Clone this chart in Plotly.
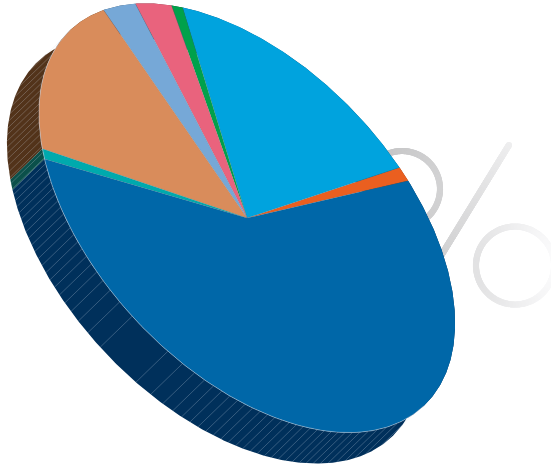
import numpy as np
import plotly.graph_objects as go

# ---- data (shares of the pie) ----
categories = ["Orange", "Sky blue", "Green", "Pink", "Light blue", "Tan", "Teal", "Dark blue"]
values = [1.0, 18.1, 0.9, 3.1, 3.1, 15.8, 0.8, 57.2]
top_colors = ["#EA5F20", "#00A3DE", "#00A14B", "#E9637D", "#76A8D7", "#D98C5B", "#00AAAD", "#0067A8"]
side_colors = ["#6e2c0e", "#00507a", "#004d24", "#6e2f3b", "#384f66", "#52331A", "#0B504A", "#00305B"]

# ---- projection of the tilted pie onto the page (pixel axes) ----
CX, CY = 247.0, 218.0
A, B = 258.0, 151.0
U = np.array([0.6845, 0.729])
V = np.array([-0.729, 0.6845])
DEPTH = np.array([-32.0, 31.0])
START = -71.2


def rim(t_deg):
    t = np.radians(np.asarray(t_deg, dtype=float))
    return (CX + A * U[0] * np.cos(t) + B * V[0] * np.sin(t),
            CY + A * U[1] * np.cos(t) + B * V[1] * np.sin(t))


fig = go.Figure()

# ---- background percent sign ----
def dots(xs, ys, cols):
    fig.add_trace(go.Scatter(x=xs, y=ys, mode="markers", hoverinfo="skip", showlegend=False,
                             marker=dict(size=6.2, color=cols, line=dict(width=0))))


def grey(v):
    v = int(round(v))
    return f"rgb({v},{v},{v + 1})"


th = np.radians(np.arange(0, 360, 1.5))
x1, y1 = 402 + 38 * np.cos(th), 189 + 38 * np.sin(th)
dots(x1, y1, [grey(v) for v in np.interp(x1, [364, 440], [192, 210])])

s = np.linspace(0, 1, 260)
x2, y2 = 509 + s * (436 - 509), 145 + s * (264 - 145)
dots(x2, y2, [grey(v) for v in np.interp(s, [0, 1], [238, 207])])

x3, y3 = 515 + 39 * np.cos(th), 265.5 + 39 * np.sin(th)
dots(x3, y3, [grey(v) for v in np.interp(x3, [476, 554], [226, 250])])

# ---- slice angle limits from the values ----
edges = START - np.concatenate([[0], np.cumsum(values)]) * 3.6

# side walls
for i in range(len(values)):
    t = np.linspace(edges[i], edges[i + 1], max(6, int(abs(values[i]) * 8)))
    x, y = rim(t)
    fig.add_trace(go.Scatter(
        x=np.concatenate([x, x[::-1] + DEPTH[0]]),
        y=np.concatenate([y, y[::-1] + DEPTH[1]]),
        mode="lines", fill="toself", fillcolor=side_colors[i],
        line=dict(width=0, color=side_colors[i]), hoverinfo="skip", showlegend=False))

# hatch lines on the visible wall
gaps = [25, 19, 15, 12, 10.5, 9.5, 9, 8.5, 8, 8, 7.5, 7.5, 7, 7, 6.5, 6.5, 6, 6, 6, 5.5, 5.5] + [5] * 6 + [4.5] * 14
dist = np.cumsum(gaps)
hx, hy = [], []
for d in dist:
    for sign in (1, -1):
        u = 18 + sign * d
        if abs(u) < A:
            t = np.degrees(np.arccos(u / A))
            px, py = rim(t)
            hx += [float(px), float(px + DEPTH[0]), None]
            hy += [float(py), float(py + DEPTH[1]), None]
fig.add_trace(go.Scatter(x=hx, y=hy, mode="lines", hoverinfo="skip", showlegend=False,
                         line=dict(color="rgba(215,225,235,0.36)", width=0.7)))

# top faces
for i, name in enumerate(categories):
    t = np.linspace(edges[i], edges[i + 1], max(6, int(abs(values[i]) * 8)))
    x, y = rim(t)
    fig.add_trace(go.Scatter(
        x=np.concatenate([[CX], x, [CX]]), y=np.concatenate([[CY], y, [CY]]),
        mode="lines", fill="toself", fillcolor=top_colors[i], name=name,
        line=dict(width=0, color=top_colors[i]), text=f"{name}: {values[i]}%",
        hoverinfo="text", showlegend=False))

# seams between slices
sx, sy = [], []
for e in edges[:-1]:
    px, py = rim(e)
    sx += [CX, float(px), None]
    sy += [CY, float(py), None]
fig.add_trace(go.Scatter(x=sx, y=sy, mode="lines", hoverinfo="skip", showlegend=False,
                         line=dict(color="rgba(90,100,110,0.4)", width=0.5)))

# light line where the top meets the wall
t = np.linspace(0, 180, 200)
x, y = rim(t)
fig.add_trace(go.Scatter(x=x, y=y, mode="lines", hoverinfo="skip", showlegend=False,
                         line=dict(color="rgba(190,205,220,0.7)", width=0.7)))

fig.update_layout(
    width=551, height=465, autosize=False,
    margin=dict(l=0, r=0, t=0, b=0),
    paper_bgcolor="white", plot_bgcolor="white", showlegend=False,
    xaxis=dict(range=[0, 551], visible=False, fixedrange=True),
    yaxis=dict(range=[465, 0], visible=False, fixedrange=True),
)
fig.write_html("out.html", config={"displayModeBar": False},
               post_script="document.body.style.margin='0';document.body.style.overflow='hidden';")
